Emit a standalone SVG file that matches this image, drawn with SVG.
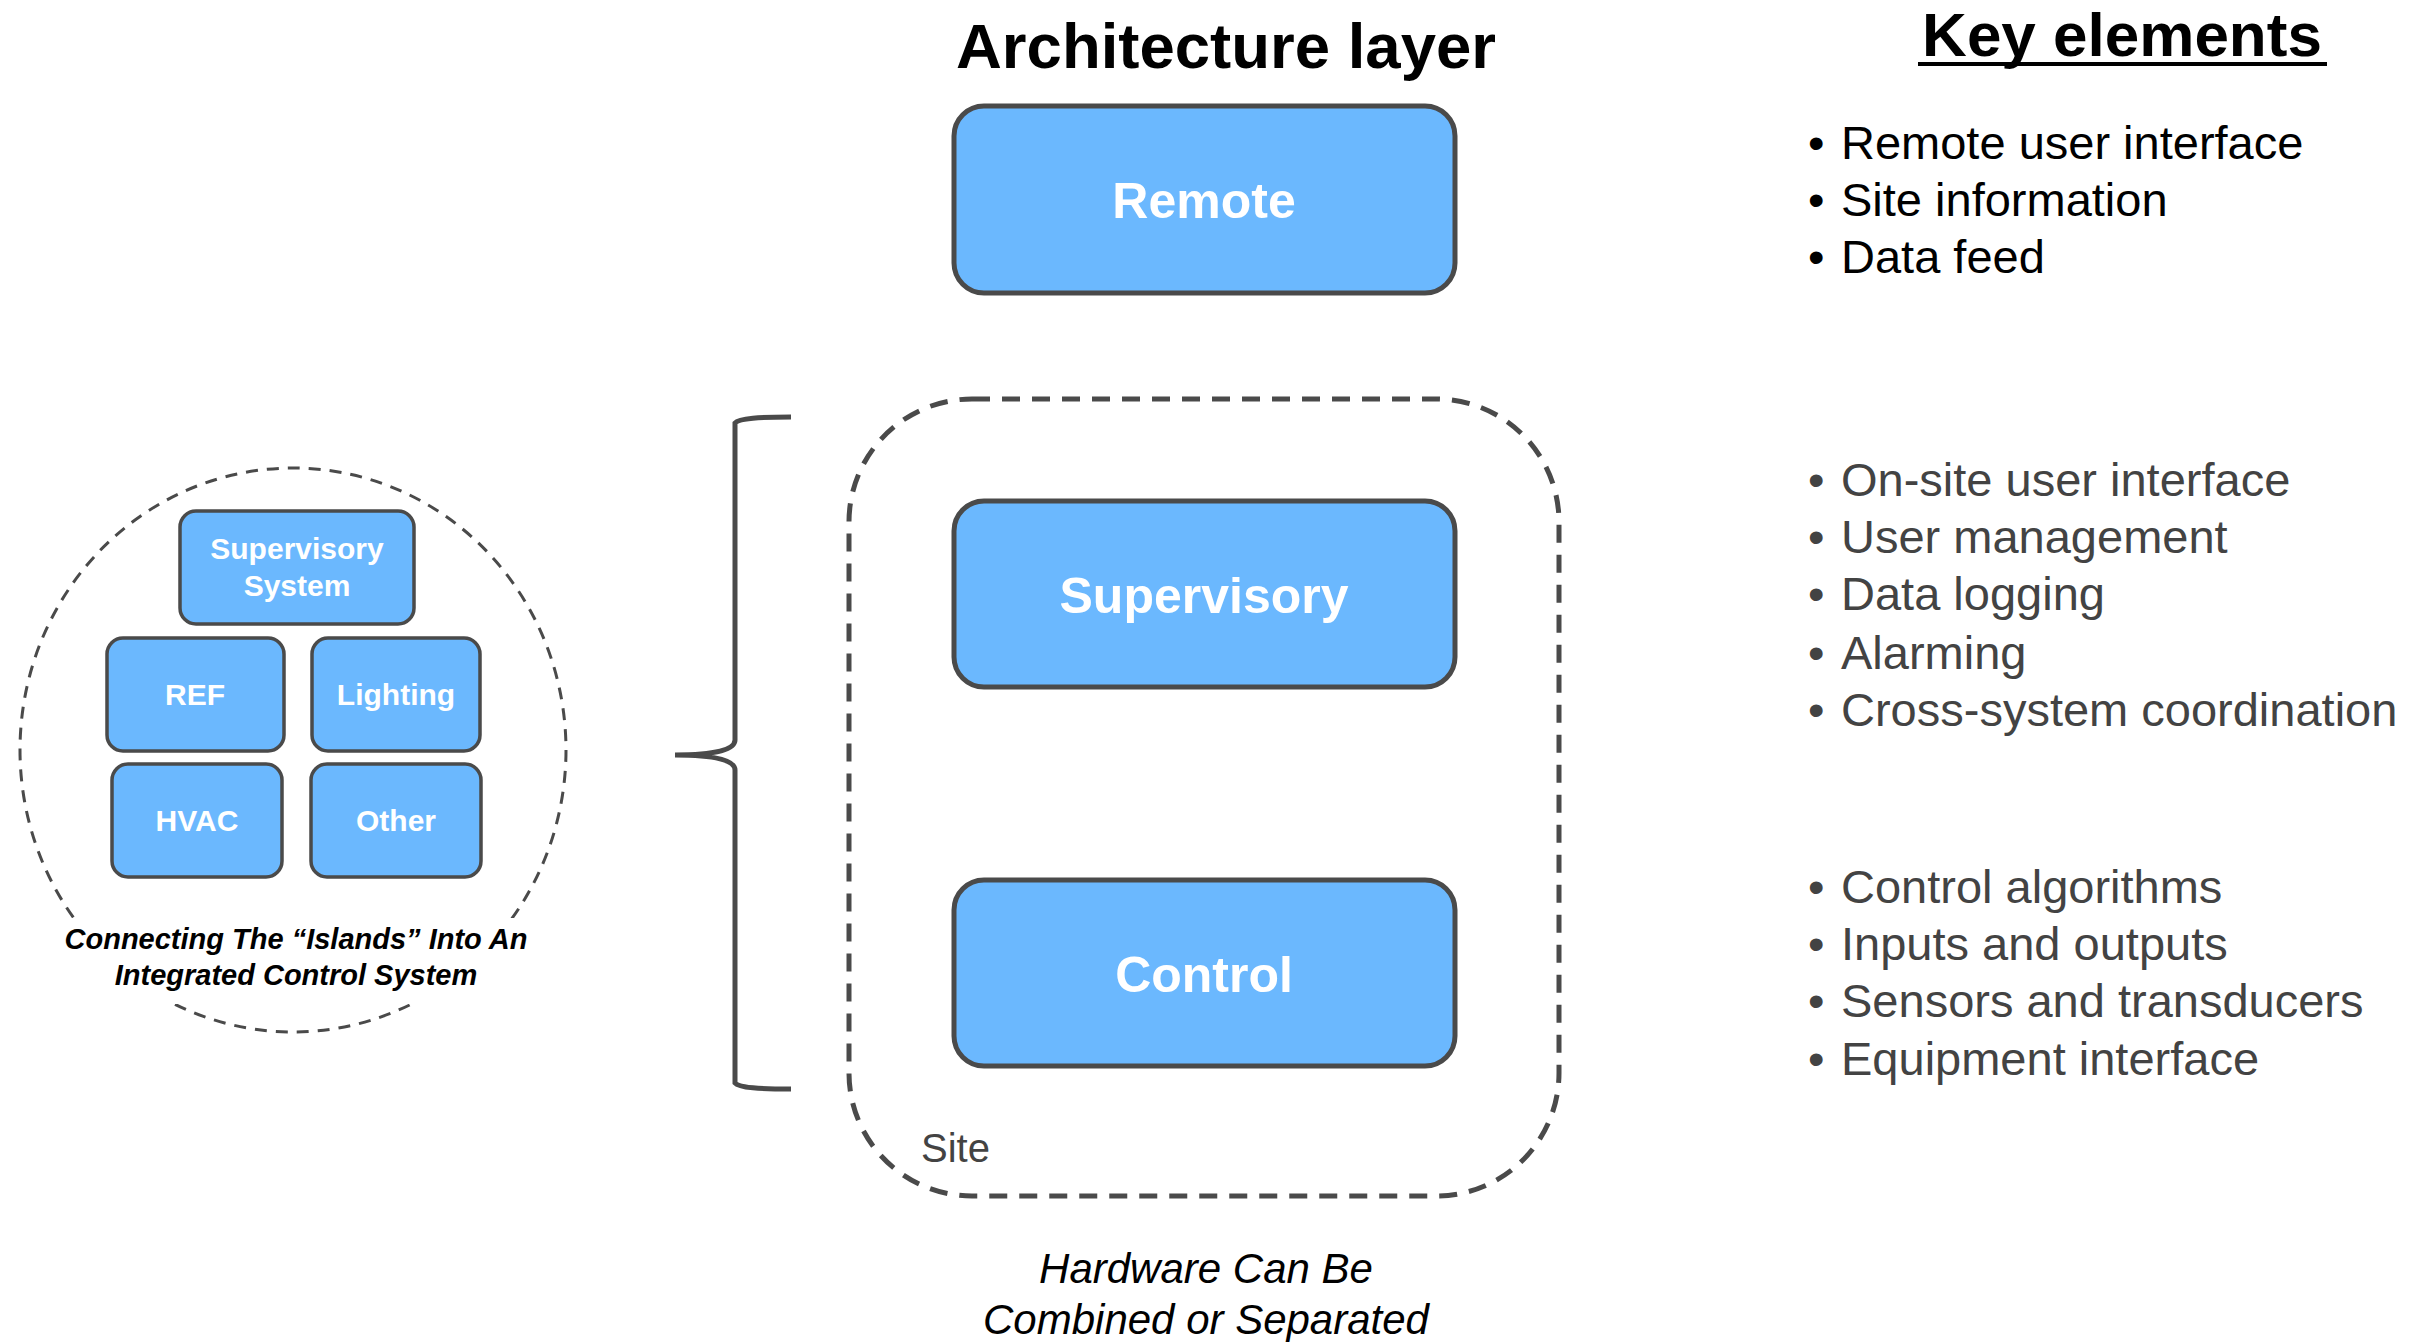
<svg xmlns="http://www.w3.org/2000/svg" width="2416" height="1342" viewBox="0 0 2416 1342">
<style>
.box{fill:#6bb8fe;stroke:#4a4a4a;stroke-width:5}
.sbox{fill:#6bb8fe;stroke:#4a4a4a;stroke-width:3.5}
.lbl{font-family:"Liberation Sans",Arial,sans-serif;font-weight:bold;fill:#ffffff;text-anchor:middle}
.big{font-size:50px}
.small{font-size:30px}
.dash{fill:none;stroke:#4a4a4a;stroke-width:5;stroke-dasharray:18 12}
.dash2{fill:none;stroke:#4a4a4a;stroke-width:3;stroke-dasharray:12 9}
.head{font-family:"Liberation Sans",Arial,sans-serif;font-weight:bold;font-size:62px;fill:#000}
.item{font-family:"Liberation Sans",Arial,sans-serif;font-size:47px}
.k1{fill:#000}
.k2{fill:#434343}
.cap{font-family:"Liberation Sans",Arial,sans-serif;font-style:italic;text-anchor:middle}
</style>
<rect width="2416" height="1342" fill="#ffffff"/>

<text class="head" x="1226" y="68" text-anchor="middle" font-size="63.5" style="font-size:63.5px">Architecture layer</text>
<g id="key-title">
<text class="head" x="2122" y="56" text-anchor="middle">Key elements</text>
<rect x="1918" y="62" width="409" height="4" fill="#000"/>
</g>

<g id="site">
<rect class="dash" x="849" y="399" width="710" height="797" rx="123" ry="123"/>
<text x="921" y="1162" font-family="'Liberation Sans',Arial,sans-serif" font-size="40" fill="#434343">Site</text>
</g>

<g id="connectors">
<path d="M791,417 C760,417 739,418 735,423 L735,740 C735,750 715,755 675,755 C715,755 735,760 735,770 L735,1083 C739,1088 760,1089 791,1089" fill="none" stroke="#4a4a4a" stroke-width="5"/>
</g>

<g id="remote">
<rect class="box" x="954" y="106" width="501" height="187" rx="30" ry="30"/>
<text class="lbl big" x="1204" y="218">Remote</text>
</g>
<g id="supervisory">
<rect class="box" x="954" y="501" width="501" height="186" rx="30" ry="30"/>
<text class="lbl big" x="1204" y="613">Supervisory</text>
</g>
<g id="control">
<rect class="box" x="954" y="880" width="501" height="186" rx="30" ry="30"/>
<text class="lbl big" x="1204" y="992">Control</text>
</g>

<g id="hardware-caption">
<text class="cap" x="1206" y="1283" font-size="42">Hardware Can Be</text>
<text class="cap" x="1206" y="1334" font-size="42">Combined or Separated</text>
</g>

<g id="islands">
<ellipse class="dash2" cx="293" cy="750" rx="273" ry="282"/>
<rect x="58" y="918" width="474" height="86" fill="#ffffff"/>
<g id="sup-system">
<rect class="sbox" x="180" y="511" width="234" height="113" rx="16" ry="16"/>
<text class="lbl small" x="297" y="559">Supervisory</text>
<text class="lbl small" x="297" y="596">System</text>
</g>
<g id="ref">
<rect class="sbox" x="107" y="638" width="177" height="113" rx="16" ry="16"/>
<text class="lbl small" x="195" y="705">REF</text>
</g>
<g id="lighting">
<rect class="sbox" x="312" y="638" width="168" height="113" rx="16" ry="16"/>
<text class="lbl small" x="396" y="705">Lighting</text>
</g>
<g id="hvac">
<rect class="sbox" x="112" y="764" width="170" height="113" rx="16" ry="16"/>
<text class="lbl small" x="197" y="831">HVAC</text>
</g>
<g id="other">
<rect class="sbox" x="311" y="764" width="170" height="113" rx="16" ry="16"/>
<text class="lbl small" x="396" y="831">Other</text>
</g>
<text x="296" y="949" font-family="'Liberation Sans',Arial,sans-serif" font-weight="bold" font-style="italic" font-size="29" text-anchor="middle" fill="#000">Connecting The “Islands” Into An</text>
<text x="296" y="985" font-family="'Liberation Sans',Arial,sans-serif" font-weight="bold" font-style="italic" font-size="29" text-anchor="middle" fill="#000">Integrated Control System</text>
</g>

<g id="list-remote" class="item k1">
<text x="1808" y="159">•</text><text x="1841" y="159">Remote user interface</text>
<text x="1808" y="216">•</text><text x="1841" y="216">Site information</text>
<text x="1808" y="273">•</text><text x="1841" y="273">Data feed</text>
</g>
<g id="list-supervisory" class="item k2">
<text x="1808" y="496">•</text><text x="1841" y="496">On-site user interface</text>
<text x="1808" y="553">•</text><text x="1841" y="553">User management</text>
<text x="1808" y="610">•</text><text x="1841" y="610">Data logging</text>
<text x="1808" y="669">•</text><text x="1841" y="669">Alarming</text>
<text x="1808" y="726">•</text><text x="1841" y="726">Cross-system coordination</text>
</g>
<g id="list-control" class="item k2">
<text x="1808" y="903">•</text><text x="1841" y="903">Control algorithms</text>
<text x="1808" y="960">•</text><text x="1841" y="960">Inputs and outputs</text>
<text x="1808" y="1017">•</text><text x="1841" y="1017">Sensors and transducers</text>
<text x="1808" y="1075">•</text><text x="1841" y="1075">Equipment interface</text>
</g>
</svg>
